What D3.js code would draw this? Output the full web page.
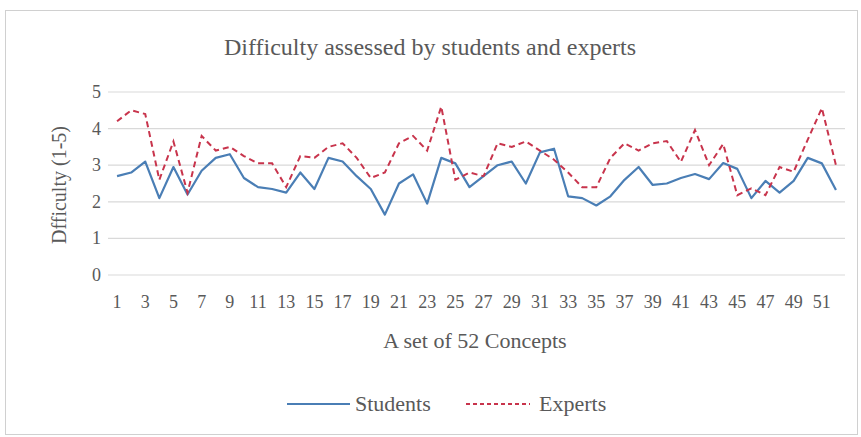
<!DOCTYPE html>
<html>
<head>
<meta charset="utf-8">
<script src="https://cdn.jsdelivr.net/npm/d3@7"></script>
<style>
  body { margin: 0; background: #fff; }
  text { font-family: "Liberation Serif", "DejaVu Serif", serif; fill: #595959; }
</style>
</head>
<body>
<div id="chart"></div>
<script>
// concepts 1..52
var concepts = d3.range(1, 53);
var tickLabels = concepts.filter(function (d) { return d % 2 === 1; });
var yTicks = [0, 1, 2, 3, 4, 5];

var students = [2.7, 2.8, 3.1, 2.1, 2.95, 2.2, 2.85, 3.2, 3.3, 2.65,
  2.4, 2.35, 2.25, 2.8, 2.35, 3.2, 3.1, 2.7, 2.35, 1.65,
  2.5, 2.75, 1.95, 3.2, 3.05, 2.4, 2.7, 3.0, 3.1, 2.5,
  3.35, 3.45, 2.15, 2.1, 1.9, 2.15, 2.6, 2.95, 2.46, 2.5,
  2.65, 2.76, 2.62, 3.06, 2.9, 2.1, 2.57, 2.25, 2.57, 3.2,
  3.05, 2.32];

var experts = [4.2, 4.5, 4.4, 2.6, 3.65, 2.25, 3.8, 3.4, 3.5, 3.25,
  3.05, 3.05, 2.4, 3.25, 3.2, 3.5, 3.6, 3.2, 2.65, 2.8,
  3.6, 3.8, 3.4, 4.6, 2.6, 2.8, 2.7, 3.6, 3.5, 3.65,
  3.4, 3.15, 2.8, 2.4, 2.4, 3.2, 3.6, 3.4, 3.6, 3.66,
  3.09, 3.96, 3.0, 3.58, 2.18, 2.37, 2.18, 2.95, 2.82, 3.7,
  4.56, 3.0];

var width = 861, height = 437;

var svg = d3.select("#chart").append("svg")
  .attr("width", width)
  .attr("height", height);

// outer frame
svg.append("rect")
  .attr("x", 5.5).attr("y", 10.5)
  .attr("width", 852).attr("height", 424)
  .attr("fill", "#fff")
  .attr("stroke", "#d0d0d0");

var x = d3.scalePoint().domain(concepts).range([110, 843]).padding(0.5);
var y = d3.scaleLinear().domain([0, 5]).range([275, 92]);

// gridlines
svg.append("g").selectAll("line")
  .data(yTicks)
  .enter().append("line")
  .attr("x1", 108).attr("x2", 845)
  .attr("y1", function (d) { return y(d); })
  .attr("y2", function (d) { return y(d); })
  .attr("stroke", "#d9d9d9")
  .attr("stroke-width", 1.2);

// y tick labels
svg.append("g").selectAll("text")
  .data(yTicks)
  .enter().append("text")
  .attr("x", 101)
  .attr("y", function (d) { return y(d) + 6; })
  .attr("text-anchor", "end")
  .style("font-size", "18px")
  .text(function (d) { return d; });

// x tick labels
svg.append("g").selectAll("text")
  .data(tickLabels)
  .enter().append("text")
  .attr("x", function (d) { return x(d); })
  .attr("y", 308)
  .attr("text-anchor", "middle")
  .style("font-size", "18px")
  .text(function (d) { return d; });

// titles
svg.append("text")
  .attr("x", 430).attr("y", 55)
  .attr("text-anchor", "middle")
  .style("font-size", "24px")
  .text("Difficulty assessed by students and experts");

svg.append("text")
  .attr("x", 475).attr("y", 348)
  .attr("text-anchor", "middle")
  .style("font-size", "22px")
  .text("A set of 52 Concepts");

svg.append("text")
  .attr("transform", "translate(66,185) rotate(-90)")
  .attr("text-anchor", "middle")
  .style("font-size", "20px")
  .text("Dfficulty (1-5)");

// lines
var line = d3.line()
  .x(function (d, i) { return x(concepts[i]); })
  .y(function (d) { return y(d); });

svg.append("path")
  .datum(students)
  .attr("d", line)
  .attr("fill", "none")
  .attr("stroke", "#4a7eb5")
  .attr("stroke-width", 2.2)
  .attr("stroke-linejoin", "round");

svg.append("path")
  .datum(experts)
  .attr("d", line)
  .attr("fill", "none")
  .attr("stroke", "#c8344c")
  .attr("stroke-width", 2)
  .attr("stroke-dasharray", "6,4");

// legend
var legend = svg.append("g");
legend.append("line")
  .attr("x1", 287).attr("x2", 350).attr("y1", 404).attr("y2", 404)
  .attr("stroke", "#4a7eb5").attr("stroke-width", 2.2);
legend.append("text")
  .attr("x", 355).attr("y", 411)
  .style("font-size", "22px")
  .text("Students");
legend.append("line")
  .attr("x1", 466).attr("x2", 530).attr("y1", 404).attr("y2", 404)
  .attr("stroke", "#c8344c").attr("stroke-width", 2)
  .attr("stroke-dasharray", "4,3");
legend.append("text")
  .attr("x", 539).attr("y", 411)
  .style("font-size", "22px")
  .text("Experts");
</script>
</body>
</html>
